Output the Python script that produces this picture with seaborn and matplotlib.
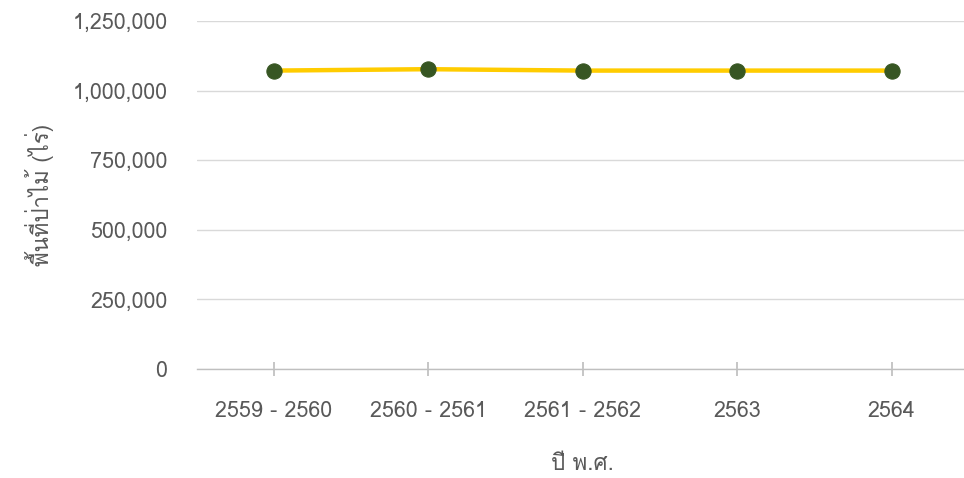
import matplotlib
matplotlib.use("Agg")
import matplotlib.pyplot as plt
import seaborn as sns
import pandas as pd
from matplotlib.ticker import FuncFormatter

years = ["2559 - 2560", "2560 - 2561", "2561 - 2562", "2563", "2564"]
forest_area = [1072000, 1077000, 1072000, 1072000, 1072000]
y_ticks = [0, 250000, 500000, 750000, 1000000, 1250000]
x_label = "ปี พ.ศ."
y_label = "พื้นที่ป่าไม้ (ไร่)"

sns.set_theme(style="white")
plt.rcParams["font.family"] = ["Loma", "DejaVu Sans"]

df = pd.DataFrame({"year": years, "area": forest_area})

fig, ax = plt.subplots(figsize=(9.64, 4.78), dpi=100)
fig.subplots_adjust(left=0.204, right=1.005, top=0.956, bottom=0.228)

sns.lineplot(data=df, x="year", y="area", ax=ax, color="#FFCC00", linewidth=3.2,
             marker="o", markersize=11, markerfacecolor="#375623",
             markeredgecolor="#375623", sort=False, zorder=3)

ax.set_ylim(0, 1250000)
ax.set_xlim(-0.5, 4.5)
ax.set_yticks(y_ticks)
ax.yaxis.set_major_formatter(FuncFormatter(lambda v, p: f"{int(v):,}"))
ax.grid(axis="y", color="#D9D9D9", linewidth=1)
ax.grid(axis="x", visible=False)
for s in ["top", "right", "left"]:
    ax.spines[s].set_visible(False)
ax.spines["bottom"].set_color("#BFBFBF")
ax.spines["bottom"].set_linewidth(1)
ax.tick_params(axis="x", bottom=True, direction="inout", length=10, color="#BFBFBF",
               labelsize=15.5, labelcolor="#595959", pad=18)
ax.tick_params(axis="y", left=False, labelsize=15.5, labelcolor="#595959", pad=15)
ax.set_xlabel(x_label, fontsize=16, color="#595959", labelpad=23)
ax.set_ylabel(y_label, fontsize=16, color="#595959", labelpad=13)

fig.savefig("out.png", dpi=100)
